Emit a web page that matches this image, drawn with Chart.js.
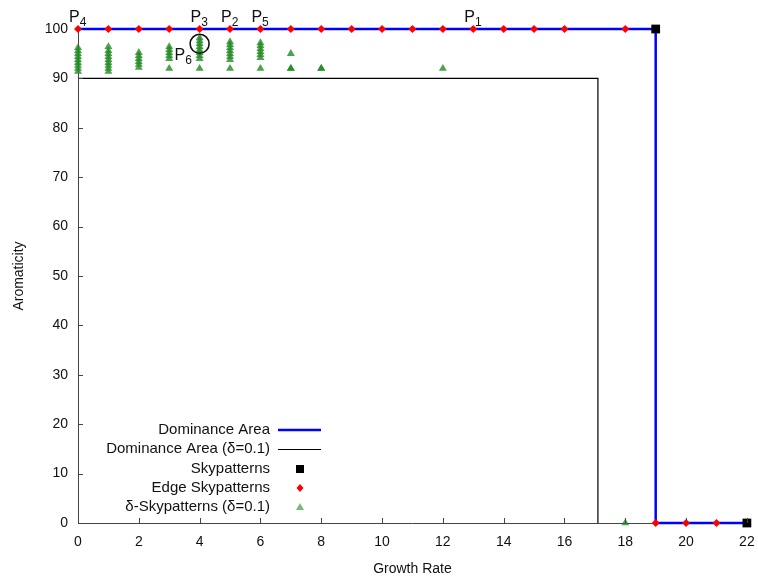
<!DOCTYPE html>
<html>
<head>
<meta charset="utf-8">
<script src="https://cdn.jsdelivr.net/npm/chart.js@4"></script>
<style>
  body { margin: 0; background: #fff; }
  #wrap { width: 758px; height: 586px; }
</style>
</head>
<body>
<div id="wrap"><canvas id="chart" width="758" height="586"></canvas></div>
<script>
// Axis ticks
const xTicks = [0, 2, 4, 6, 8, 10, 12, 14, 16, 18, 20, 22];
const yTicks = [0, 10, 20, 30, 40, 50, 60, 70, 80, 90, 100];

// Dominance area outlines
const domX = [0, 19, 19, 22];
const domY = [100, 100, 0, 0];
const domDeltaX = [0, 17.1, 17.1];
const domDeltaY = [90, 90, 0];

// Skypatterns (black squares)
const skyX = [19, 22];
const skyY = [100, 0];

// Edge skypatterns (red diamonds)
const edgeX = [0, 1, 2, 3, 4, 5, 6, 7, 8, 9, 10, 11, 12, 13, 14, 15, 16, 18, 19, 20, 21];
const edgeY = [100, 100, 100, 100, 100, 100, 100, 100, 100, 100, 100, 100, 100, 100, 100, 100, 100, 100, 0, 0, 0];

// delta-skypatterns (green triangles)
const deltaX = [
  0, 0, 0, 0, 0, 0, 0, 0, 0,
  1, 1, 1, 1, 1, 1, 1, 1, 1,
  2, 2, 2, 2, 2, 2,
  3, 3, 3, 3, 3, 3,
  4, 4, 4, 4, 4, 4, 4, 4, 4,
  5, 5, 5, 5, 5, 5, 5, 5,
  6, 6, 6, 6, 6, 6, 6,
  7, 7, 7,
  8, 8,
  12,
  18
];
const deltaY = [
  91.4, 92, 92.6, 93.2, 93.8, 94.4, 95, 95.6, 96.2,
  91.4, 92, 92.6, 93.2, 93.8, 94.4, 95, 95.6, 96.4,
  92.2, 92.8, 93.4, 94, 94.6, 95.2,
  92, 94, 94.6, 95.2, 95.8, 96.4,
  92, 94, 94.6, 95.2, 95.8, 96.4, 97, 97.6, 98.2,
  92, 93.8, 94.4, 95, 95.6, 96.2, 96.8, 97.4,
  92, 94.2, 94.8, 95.4, 96, 96.6, 97.2,
  92, 92, 95,
  92, 92,
  92,
  0
];

// Named points (P1..P6)
const pNames = ['1', '2', '3', '4', '5', '6'];
const pX = [13, 5, 4, 0, 6, 4];
const pY = [100, 100, 100, 100, 100, 97];

// Legend entries
const legendLabels = ['Dominance Area', 'Dominance Area (\u03b4=0.1)', 'Skypatterns', 'Edge Skypatterns', '\u03b4-Skypatterns (\u03b4=0.1)'];

const FONT = "'Liberation Sans', Arial, sans-serif";
const GREEN = 'rgba(34,139,34,0.8)';

function pts(xs, ys) {
  return xs.map((x, i) => ({ x: x, y: ys[i] }));
}

// Inward tick marks, gnuplot style
const tickMarks = {
  id: 'tickMarks',
  afterDatasetsDraw(chart) {
    const { ctx, chartArea, scales } = chart;
    ctx.save();
    ctx.strokeStyle = '#444';
    ctx.lineWidth = 1;
    ctx.beginPath();
    xTicks.forEach(v => {
      const px = Math.round(scales.x.getPixelForValue(v)) + 0.5;
      ctx.moveTo(px, chartArea.bottom);
      ctx.lineTo(px, chartArea.bottom - 5);
    });
    yTicks.forEach(v => {
      const py = Math.round(scales.y.getPixelForValue(v)) + 0.5;
      ctx.moveTo(chartArea.left, py);
      ctx.lineTo(chartArea.left + 5, py);
    });
    ctx.stroke();
    ctx.restore();
  }
};

// P labels with subscripts
const pointLabels = {
  id: 'pointLabels',
  afterDatasetsDraw(chart) {
    const { ctx, scales } = chart;
    ctx.save();
    ctx.fillStyle = '#111';
    ctx.textBaseline = 'alphabetic';
    ctx.textAlign = 'left';
    pNames.forEach((n, i) => {
      const px = scales.x.getPixelForValue(pX[i]);
      const py = scales.y.getPixelForValue(pY[i]);
      let lx, ly;
      if (n === '6') { lx = px - 25; ly = py + 16; }
      else { lx = px - 9; ly = py - 7; }
      ctx.font = '16px ' + FONT;
      ctx.fillText('P', lx, ly);
      const w = ctx.measureText('P').width;
      ctx.font = '12px ' + FONT;
      ctx.fillText(n, lx + w, ly + 4);
    });
    ctx.restore();
  }
};

// Key in the gnuplot way: text right-aligned, sample on the right
const keyBox = {
  id: 'keyBox',
  afterDatasetsDraw(chart) {
    const { ctx } = chart;
    const textRight = 270;
    const sampleL = 278, sampleR = 321, sampleC = 300;
    const rows = [430, 449, 469, 488, 507];
    ctx.save();
    ctx.font = '15px ' + FONT;
    ctx.fillStyle = '#111';
    ctx.textAlign = 'right';
    ctx.textBaseline = 'middle';
    legendLabels.forEach((t, i) => ctx.fillText(t, textRight, rows[i]));
    // samples
    ctx.strokeStyle = '#0000ff';
    ctx.lineWidth = 2.5;
    ctx.beginPath(); ctx.moveTo(sampleL, rows[0]); ctx.lineTo(sampleR, rows[0]); ctx.stroke();
    ctx.strokeStyle = '#000';
    ctx.lineWidth = 1;
    ctx.beginPath(); ctx.moveTo(sampleL, rows[1] + 0.5); ctx.lineTo(sampleR, rows[1] + 0.5); ctx.stroke();
    ctx.fillStyle = '#000';
    ctx.fillRect(sampleC - 4, rows[2] - 4, 8, 8);
    ctx.fillStyle = '#ff0000';
    ctx.beginPath();
    ctx.moveTo(sampleC, rows[3] - 4); ctx.lineTo(sampleC + 3.5, rows[3]);
    ctx.lineTo(sampleC, rows[3] + 4); ctx.lineTo(sampleC - 3.5, rows[3]);
    ctx.closePath(); ctx.fill();
    ctx.fillStyle = 'rgba(34,139,34,0.6)';
    ctx.beginPath();
    ctx.moveTo(sampleC, rows[4] - 4); ctx.lineTo(sampleC + 4, rows[4] + 3);
    ctx.lineTo(sampleC - 4, rows[4] + 3);
    ctx.closePath(); ctx.fill();
    ctx.restore();
  }
};

new Chart(document.getElementById('chart'), {
  type: 'scatter',
  data: {
    datasets: [
      {
        label: 'P6 marker',
        data: pts([pX[5]], [pY[5]]),
        pointStyle: 'circle',
        pointRadius: 9.5,
        backgroundColor: 'rgba(0,0,0,0)',
        borderColor: '#111',
        borderWidth: 1.6,
        clip: false
      },
      {
        label: legendLabels[4],
        data: pts(deltaX, deltaY),
        pointStyle: 'triangle',
        pointRadius: 4.6,
        backgroundColor: GREEN,
        borderWidth: 0,
        clip: false
      },
      {
        label: legendLabels[3],
        data: pts(edgeX, edgeY),
        pointStyle: 'rectRot',
        pointRadius: 4,
        backgroundColor: '#ff0000',
        borderWidth: 0,
        clip: false
      },
      {
        label: legendLabels[2],
        data: pts(skyX, skyY),
        pointStyle: 'rect',
        pointRadius: 6.2,
        backgroundColor: '#000',
        borderWidth: 0,
        clip: false
      },
      {
        label: legendLabels[0],
        data: pts(domX, domY),
        showLine: true,
        borderColor: '#0000ff',
        borderWidth: 2.5,
        pointRadius: 0,
        tension: 0,
        clip: false
      },
      {
        label: legendLabels[1],
        data: pts(domDeltaX, domDeltaY),
        showLine: true,
        borderColor: '#000',
        borderWidth: 1.2,
        pointRadius: 0,
        tension: 0,
        clip: false
      }
    ]
  },
  options: {
    responsive: false,
    animation: false,
    layout: { padding: { top: 29, right: 10, left: 0, bottom: 0 } },
    plugins: {
      legend: { display: false },
      tooltip: { enabled: false }
    },
    scales: {
      x: {
        type: 'linear',
        min: 0,
        max: 22,
        afterFit: s => { s.height = 63; s.paddingLeft = 0; s.paddingRight = 0; },
        afterBuildTicks: s => { s.ticks = xTicks.map(v => ({ value: v })); },
        grid: { display: false, drawTicks: false },
        border: { display: true, color: '#444', width: 1 },
        ticks: { padding: 11, color: '#111', font: { family: FONT, size: 14 } },
        title: { display: true, text: 'Growth Rate', color: '#111', font: { family: FONT, size: 14 }, padding: { top: 0, bottom: 8 } }
      },
      y: {
        type: 'linear',
        min: 0,
        max: 100,
        afterFit: s => { s.width = 78; s.paddingTop = 0; s.paddingBottom = 0; },
        afterBuildTicks: s => { s.ticks = yTicks.map(v => ({ value: v })); },
        grid: { display: false, drawTicks: false },
        border: { display: true, color: '#444', width: 1 },
        ticks: { padding: 10, color: '#111', font: { family: FONT, size: 14 } },
        title: { display: true, text: 'Aromaticity', color: '#111', font: { family: FONT, size: 14 }, padding: { top: 11, bottom: 0 } }
      }
    }
  },
  plugins: [tickMarks, pointLabels, keyBox]
});
</script>
</body>
</html>
